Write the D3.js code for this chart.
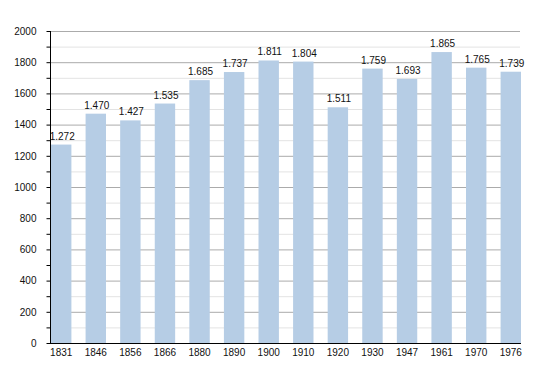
<!DOCTYPE html>
<html><head><meta charset="utf-8">
<script src="https://cdn.jsdelivr.net/npm/d3@7"></script>
<style>body{margin:0;background:#fff}svg{display:block}text{font-family:"Liberation Sans",Arial,sans-serif}</style>
</head><body>
<svg id="c" width="550" height="373"></svg>
<script>
const years = ["1831","1846","1856","1866","1880","1890","1900","1910","1920","1930","1947","1961","1970","1976"];
const population = [1272,1470,1427,1535,1685,1737,1811,1804,1511,1759,1693,1865,1765,1739];
const yTicks = [0,200,400,600,800,1000,1200,1400,1600,1800,2000];
const yMinor = [100,300,500,700,900,1100,1300,1500,1700,1900];

const svg = d3.select("#c");
const L = 50, R = 520, T = 31, B = 343;
const x = d3.scaleBand().domain(years).range([L, R]).paddingInner(0.41).paddingOuter(0);
const y = d3.scaleLinear().domain([0, 2000]).range([B, T]);

// minor grid
svg.append("g").selectAll("line").data(yMinor).join("line")
  .attr("x1", L).attr("x2", R).attr("y1", d => y(d) + 0.5).attr("y2", d => y(d) + 0.5)
  .attr("stroke", "#e3e3e3").attr("stroke-width", 1);
// major grid
svg.append("g").selectAll("line").data(yTicks.filter(d => d > 0)).join("line")
  .attr("x1", L).attr("x2", R).attr("y1", d => y(d) + 0.5).attr("y2", d => y(d) + 0.5)
  .attr("stroke", "#ababab").attr("stroke-width", 1);

// bars
svg.append("g").selectAll("rect").data(population).join("rect")
  .attr("x", (d, i) => x(years[i]) + 1)
  .attr("width", x.bandwidth())
  .attr("y", d => y(d))
  .attr("height", d => B - y(d))
  .attr("fill", "#b6cde5");

// value labels
const fmt = d3.formatLocale({decimal: ",", thousands: ".", grouping: [3], currency: ["", ""]}).format(",");
svg.append("g").selectAll("text").data(population).join("text")
  .attr("x", (d, i) => x(years[i]) + 2 + x.bandwidth() / 2)
  .attr("y", d => y(d) - 5)
  .attr("text-anchor", "middle")
  .attr("font-size", 10).attr("fill", "#111")
  .text(d => fmt(d));

// y axis
const yAxis = d3.axisLeft(y).tickValues(yTicks).tickSize(4).tickFormat(d3.format("d"));
const gy = svg.append("g").attr("transform", `translate(${L + 0.5},0)`).call(yAxis);
gy.select(".domain").attr("d", `M0,${T}V${B + 0.5}`).attr("stroke", "#000");
gy.selectAll(".tick text").attr("font-size", 10).attr("font-family", "Liberation Sans, Arial, sans-serif").attr("fill", "#111").attr("x", -14);
gy.selectAll(".tick line").attr("stroke", "#000");
gy.append("g").selectAll("line").data(yMinor).join("line")
  .attr("x1", -4).attr("x2", 0).attr("y1", d => y(d) + 0.5).attr("y2", d => y(d) + 0.5).attr("stroke", "#000");

// x axis
const xAxis = d3.axisBottom(x).tickSize(0).tickPadding(5);
const gx = svg.append("g").attr("transform", `translate(1,${B + 0.5})`).call(xAxis);
gx.select(".domain").attr("d", `M${L - 1},0H${R}`).attr("stroke", "#000");
gx.selectAll(".tick text").attr("font-size", 10).attr("font-family", "Liberation Sans, Arial, sans-serif").attr("fill", "#111");
</script>
</body></html>
